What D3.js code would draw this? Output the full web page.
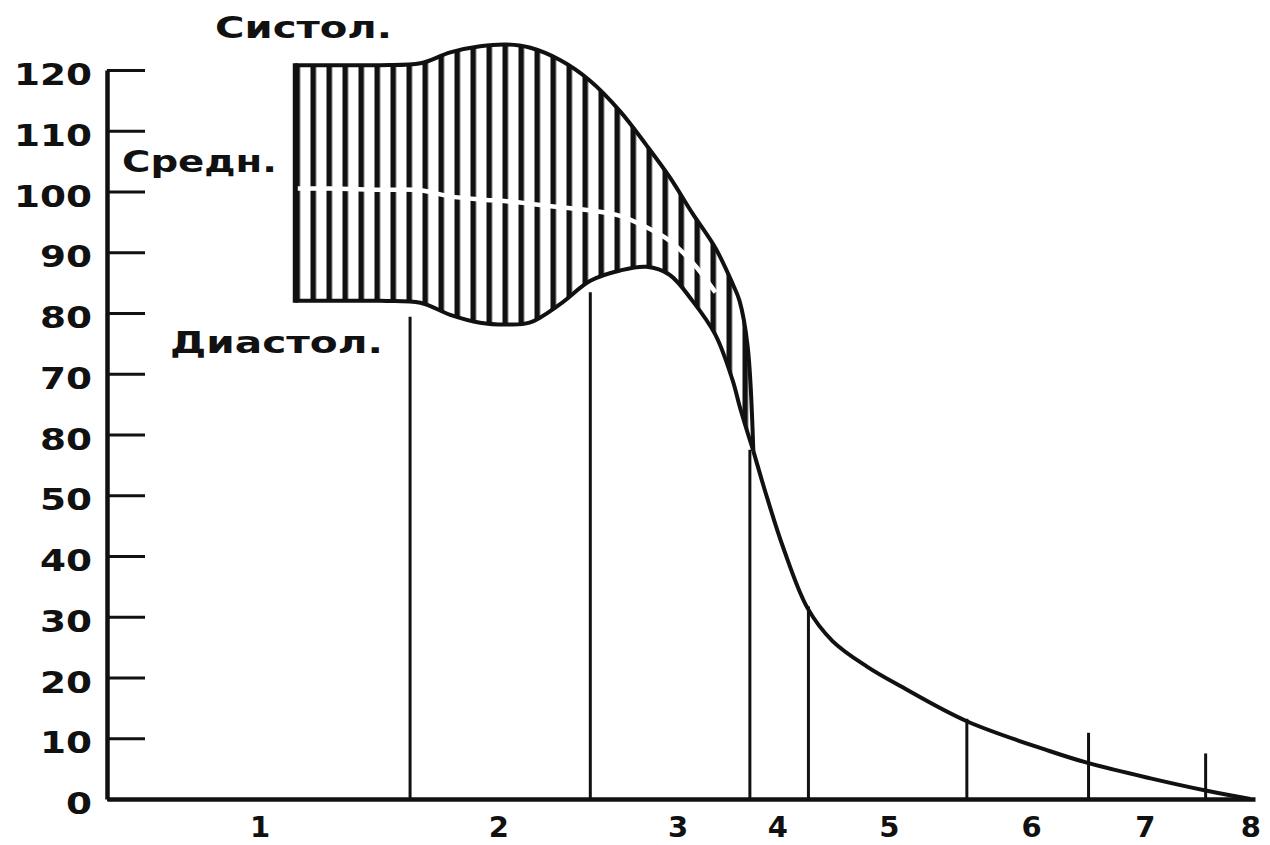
<!DOCTYPE html>
<html><head><meta charset="utf-8">
<script src="https://cdn.jsdelivr.net/npm/d3@7"></script>
<style>body{margin:0;background:#fff} svg{display:block}</style>
</head><body>
<svg id="chart" width="1270" height="845"></svg>
<script>
// ---- data ----
const bandX     = [16.4,19.4,23.8,27.3,29.9,32.5,34.8,36.8,39.5,42.1,44.7,47.0,49.0,51.0,53.0,54.5,55.1,55.8,56.3];
const systolic  = [120.8,120.8,120.8,121.1,122.9,123.9,124.2,123.7,121.6,118.2,113.2,107.6,102.4,96.4,90.7,84.8,82.0,74.6,57.3];
const diastolic = [82.0,82.0,82.0,81.7,79.7,78.4,78.1,78.4,81.5,85.3,87.0,87.6,86.3,82.0,76.4,68.9,64.7,60.3,57.3];
const meanP     = [100.5,100.5,100.3,100.2,99.2,98.7,98.4,98.0,97.4,96.9,96.0,94.1,91.9,88.3,83.4,77.1,72.2,65.6,57.3];
const tailX     = [56.3,57.5,58.9,61.0,63.2,66.2,69.1,74.9,82.1,85.5,90.9,95.7,99.6];
const tailY     = [57.3,49.6,41.4,31.5,26.0,21.8,18.6,12.8,7.9,5.9,3.4,1.4,0];
const segX      = [26.4,42.1,56.0,61.1,74.9,85.5,95.7];
const segTop    = [79.4,83.4,57.5,31.7,13.2,10.9,7.5];
const sectionX      = [13.3,34.1,49.7,58.4,68.1,80.5,90.4,99.6];
const sectionLabels = ["1","2","3","4","5","6","7","8"];
const yTicks      = [0,10,20,30,40,50,60,70,80,90,100,110,120];
const yTickLabels = ["0","10","20","30","40","50","80","70","80","90","100","110","120"];
const seriesNames = ["Систол.","Средн.","Диастол."];

// ---- scales ----
const svg = d3.select("#chart");
const x = d3.scaleLinear().domain([0,100]).range([107,1255]);
const y = d3.scaleLinear().domain([0,120]).range([799,70]);
const FONT = "'DejaVu Sans', 'Liberation Sans', sans-serif";
const curve = d3.curveCatmullRom.alpha(0.5);

// hatch pattern
const defs = svg.append("defs");
const pat = defs.append("pattern").attr("id","hatch").attr("patternUnits","userSpaceOnUse")
  .attr("x",310.5).attr("y",0).attr("width",16).attr("height",20);
pat.append("rect").attr("x",0).attr("y",0).attr("width",16).attr("height",20).attr("fill","#fff");
pat.append("rect").attr("x",0).attr("y",0).attr("width",5.5).attr("height",20).attr("fill","#111");

const band = bandX.map((v,i)=>({x:v, s:systolic[i], d:diastolic[i], m:meanP[i]}));
const tail = tailX.map((v,i)=>({x:v, y:tailY[i]}));

// band fill
const area = d3.area().x(d=>x(d.x)).y0(d=>y(d.d)).y1(d=>y(d.s)).curve(curve);
svg.append("path").datum(band).attr("d",area).attr("fill","url(#hatch)");

// mean line (white gap through hatching)
const lineM = d3.line().x(d=>x(d.x)).y(d=>y(d.m)).curve(curve);
svg.append("path").datum(band.slice(0,15)).attr("d",lineM).attr("fill","none")
  .attr("stroke","#fff").attr("stroke-width",4.5);

// vertical section lines
svg.selectAll("line.seg").data(segX).join("line").attr("class","seg")
  .attr("x1",d=>x(d)).attr("x2",d=>x(d))
  .attr("y1",y(0)).attr("y2",(d,i)=>y(segTop[i]))
  .attr("stroke","#111").attr("stroke-width",3);

// outlines
const lineS = d3.line().x(d=>x(d.x)).y(d=>y(d.s)).curve(curve);
const lineD = d3.line().x(d=>x(d.x)).y(d=>y(d.d)).curve(curve);
const lineT = d3.line().x(d=>x(d.x)).y(d=>y(d.y)).curve(curve);
svg.append("path").datum(band).attr("d",lineS).attr("fill","none").attr("stroke","#111").attr("stroke-width",4);
svg.append("path").datum(band).attr("d",lineD).attr("fill","none").attr("stroke","#111").attr("stroke-width",4);
svg.append("path").datum(tail).attr("d",lineT).attr("fill","none").attr("stroke","#111").attr("stroke-width",4);
// left edge of band
svg.append("line").attr("x1",x(bandX[0])).attr("x2",x(bandX[0]))
  .attr("y1",y(systolic[0])-2).attr("y2",y(diastolic[0])+2)
  .attr("stroke","#111").attr("stroke-width",5);

// y axis
const gy = svg.append("g").attr("transform",`translate(${x(0)},0)`)
  .call(d3.axisLeft(y).tickValues(yTicks).tickSizeInner(-38).tickSizeOuter(0).tickPadding(15)
    .tickFormat((d,i)=>yTickLabels[i]));
gy.select(".domain").attr("stroke","#111").attr("stroke-width",4.5);
gy.selectAll(".tick line").attr("stroke","#111").attr("stroke-width",3);
gy.selectAll(".tick text").attr("font-family",FONT).attr("font-weight","bold").attr("font-size",31)
  .attr("fill","#111").attr("dy","0.47em")
  .attr("textLength",function(){return this.textContent.length*26;})
  .attr("lengthAdjust","spacingAndGlyphs");

// x axis
const gx = svg.append("g").attr("transform",`translate(0,${y(0)})`)
  .call(d3.axisBottom(x).tickValues(sectionX).tickSize(0).tickSizeOuter(0).tickPadding(17)
    .tickFormat((d,i)=>sectionLabels[i]));
gx.select(".domain").attr("stroke","#111").attr("stroke-width",4.5);
gx.selectAll(".tick text").attr("font-family",FONT).attr("font-weight","bold").attr("font-size",29)
  .attr("fill","#111");

// series annotations
const ann = [
  {t:seriesNames[0], x:215, y:38, w:177},
  {t:seriesNames[1], x:122, y:172, w:155},
  {t:seriesNames[2], x:170, y:353, w:213}
];
svg.selectAll("text.ann").data(ann).join("text").attr("class","ann")
  .attr("x",d=>d.x).attr("y",d=>d.y).text(d=>d.t)
  .attr("font-family",FONT).attr("font-weight","bold").attr("font-size",31).attr("fill","#111")
  .attr("textLength",d=>d.w).attr("lengthAdjust","spacingAndGlyphs");
</script>
</body></html>
